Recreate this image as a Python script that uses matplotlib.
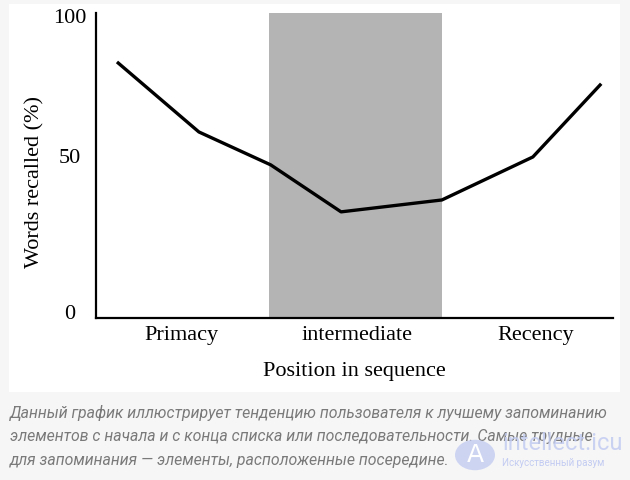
import matplotlib.pyplot as plt
from matplotlib.patches import Rectangle, Circle

# serial position curve
position = [0.43, 1.99, 3.38, 4.74, 6.69, 8.45, 9.75]
recalled = [83.6, 61.0, 50.2, 34.8, 38.7, 52.8, 76.4]
band = [3.35, 6.7]

x_labels = ['Primacy', 'intermediate', 'Recency']
y_labels = ['0', '50', '100']

caption = ['Данный график иллюстрирует тенденцию пользователя к лучшему запоминанию',
           'элементов с начала и с конца списка или последовательности. Самые трудные',
           'для запоминания — элементы, расположенные посередине.']

W, H = 630, 480
fig = plt.figure(figsize=(W / 100, H / 100), dpi=100, facecolor='#f6f6f6')
fig.add_artist(Rectangle((9 / W, 1 - 392 / H), 611 / W, 388 / H,
                         transform=fig.transFigure, facecolor='white',
                         edgecolor='none', zorder=0))

serif = 'Liberation Serif'
ax = fig.add_axes([96 / W, 1 - 318 / H, 517 / W, 305 / H])
ax.set_facecolor('white')
ax.set_xlim(0, 10)
ax.set_ylim(0, 100)

ax.axvspan(band[0], band[1], color='#b4b4b4', lw=0, zorder=1)
ax.plot(position, recalled, color='black', lw=2.4, zorder=3)

for s in ['top', 'right']:
    ax.spines[s].set_visible(False)
for s in ['left', 'bottom']:
    ax.spines[s].set_linewidth(1.6)
    ax.spines[s].set_zorder(4)

ax.set_xticks([1.65, 5.05, 8.5], x_labels, fontfamily=serif, fontsize=16)
ax.set_yticks([2, 53, 99], y_labels, fontfamily=serif, fontsize=16)
ax.tick_params(axis='x', length=0, pad=6)
ax.tick_params(axis='y', length=0, pad=19)
for lab in ax.get_yticklabels():
    lab.set_horizontalalignment('center')

ax.set_xlabel('Position in sequence', fontfamily=serif, fontsize=16, labelpad=12)
ax.set_ylabel('Words recalled (%)', fontfamily=serif, fontsize=16)
ax.yaxis.set_label_coords(-0.1, 0.446)

# caption under the picture
for i, line in enumerate(caption):
    fig.text(10 / W, 1 - (413 + i * 23.5) / H, line, fontfamily='Roboto',
             fontstyle='italic', fontsize=11.4, color='#7a7a7a', va='center')

# faint site watermark
fig.add_artist(Circle((475 / W, 1 - 455 / H), 20 / W, transform=fig.transFigure,
                      facecolor='#c3ccf2', edgecolor='none', alpha=0.8, zorder=5))
fig.text(475 / W, 1 - 455 / H, 'A', fontfamily='DejaVu Sans', fontsize=18,
         color='white', ha='center', va='center', zorder=6)
fig.text(502 / W, 1 - 443 / H, 'intellect.icu', fontfamily='Roboto', fontsize=17,
         color='#c3ccf2', alpha=0.85, va='center', zorder=6)
fig.text(502 / W, 1 - 463 / H, 'Искусственный разум', fontfamily='Roboto',
         fontsize=7, color='#c3ccf2', va='center', zorder=6)

fig.savefig('out.png', dpi=100, facecolor=fig.get_facecolor())
